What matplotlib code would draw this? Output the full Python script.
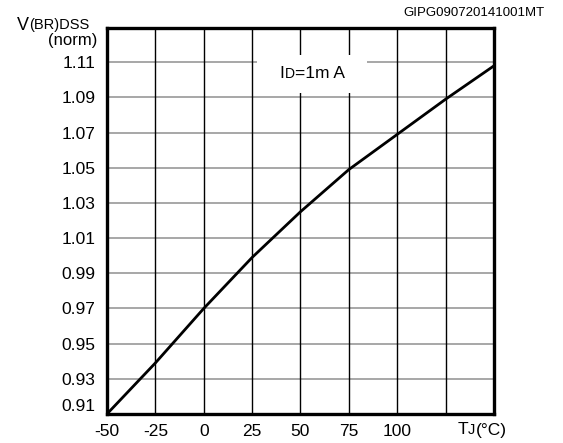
import matplotlib
matplotlib.use('Agg')
import matplotlib.pyplot as plt
from matplotlib.offsetbox import TextArea, HPacker, AnnotationBbox
from matplotlib.patches import Rectangle

plt.rcParams['font.family'] = ['Liberation Sans', 'DejaVu Sans']

# data
temp = [-50, -25, 0, 25, 50, 75, 100, 125, 150]
vbr_norm = [0.910, 0.939, 0.970, 0.999, 1.025, 1.049, 1.069, 1.089, 1.108]

x_ticks = [-50, -25, 0, 25, 50, 75, 100, 125, 150]
x_labels = ['-50', '-25', '0', '25', '50', '75', '100', '', '']
y_ticks = [0.93, 0.95, 0.97, 0.99, 1.01, 1.03, 1.05, 1.07, 1.09, 1.11]
y_labels = ['0.93', '0.95', '0.97', '0.99', '1.01', '1.03', '1.05', '1.07', '1.09', '1.11']
code_text = 'GIPG090720141001MT'


def mixed_label(ax, parts, xy, coords, box_align=(0.5, 0.5)):
    areas = [TextArea(t, textprops=dict(fontsize=s, color='black')) for t, s in parts]
    pack = HPacker(children=areas, align='baseline', pad=0, sep=0)
    ab = AnnotationBbox(pack, xy, xycoords=coords, frameon=False,
                        box_alignment=box_align, zorder=6, annotation_clip=False)
    ax.add_artist(ab)


fig = plt.figure(figsize=(5.63, 4.43), dpi=100)
ax = fig.add_axes([0.1900, 0.0655, 0.6874, 0.8713])

ax.plot(temp, vbr_norm, color='black', linewidth=2.0, zorder=5)

ax.set_xlim(-50, 150)
ax.set_ylim(0.91, 1.1295)
ax.set_xticks(x_ticks)
ax.set_xticklabels(x_labels, fontsize=12.5)
ax.set_yticks(y_ticks)
ax.set_yticklabels(y_labels, fontsize=12.5)
ax.tick_params(axis='x', length=0, pad=7)
ax.tick_params(axis='y', length=0, pad=8.5)

for t in x_ticks[1:-1]:
    ax.axvline(t, color='black', linewidth=1.0, zorder=2)
for v in y_ticks:
    ax.axhline(v, color='#a0a0a0', linewidth=1.3, zorder=1)

for s in ax.spines.values():
    s.set_linewidth(2.4)
    s.set_zorder(7)

# bottom y label sits above the axis line
ax.text(-0.031, 0.91, '0.91', transform=ax.get_yaxis_transform(), fontsize=12.5,
        ha='right', va='bottom')

# condition label on a white patch
ax.add_patch(Rectangle((27.6, 1.0925), 57.0, 0.0218, facecolor='white',
                       edgecolor='none', zorder=3))
mixed_label(ax, [('I', 12.5), ('D', 10), ('=1m A', 12.5)], (56.0, 1.1035), 'data')

# axis titles
mixed_label(ax, [('T', 12.5), ('J', 10.5), ('(°C)', 12.5)], (482, 443 - 430), 'figure pixels')
mixed_label(ax, [('V', 13), ('(BR)DSS', 10.5)], (17, 443 - 25), 'figure pixels', (0, 0.5))
fig.text(97 / 563, 1 - 40 / 443, '(norm)', fontsize=12, ha='right', va='center')
fig.text(545 / 563, 1 - 13 / 443, code_text, fontsize=9.5, ha='right', va='center')

fig.savefig('out.png', dpi=100)
